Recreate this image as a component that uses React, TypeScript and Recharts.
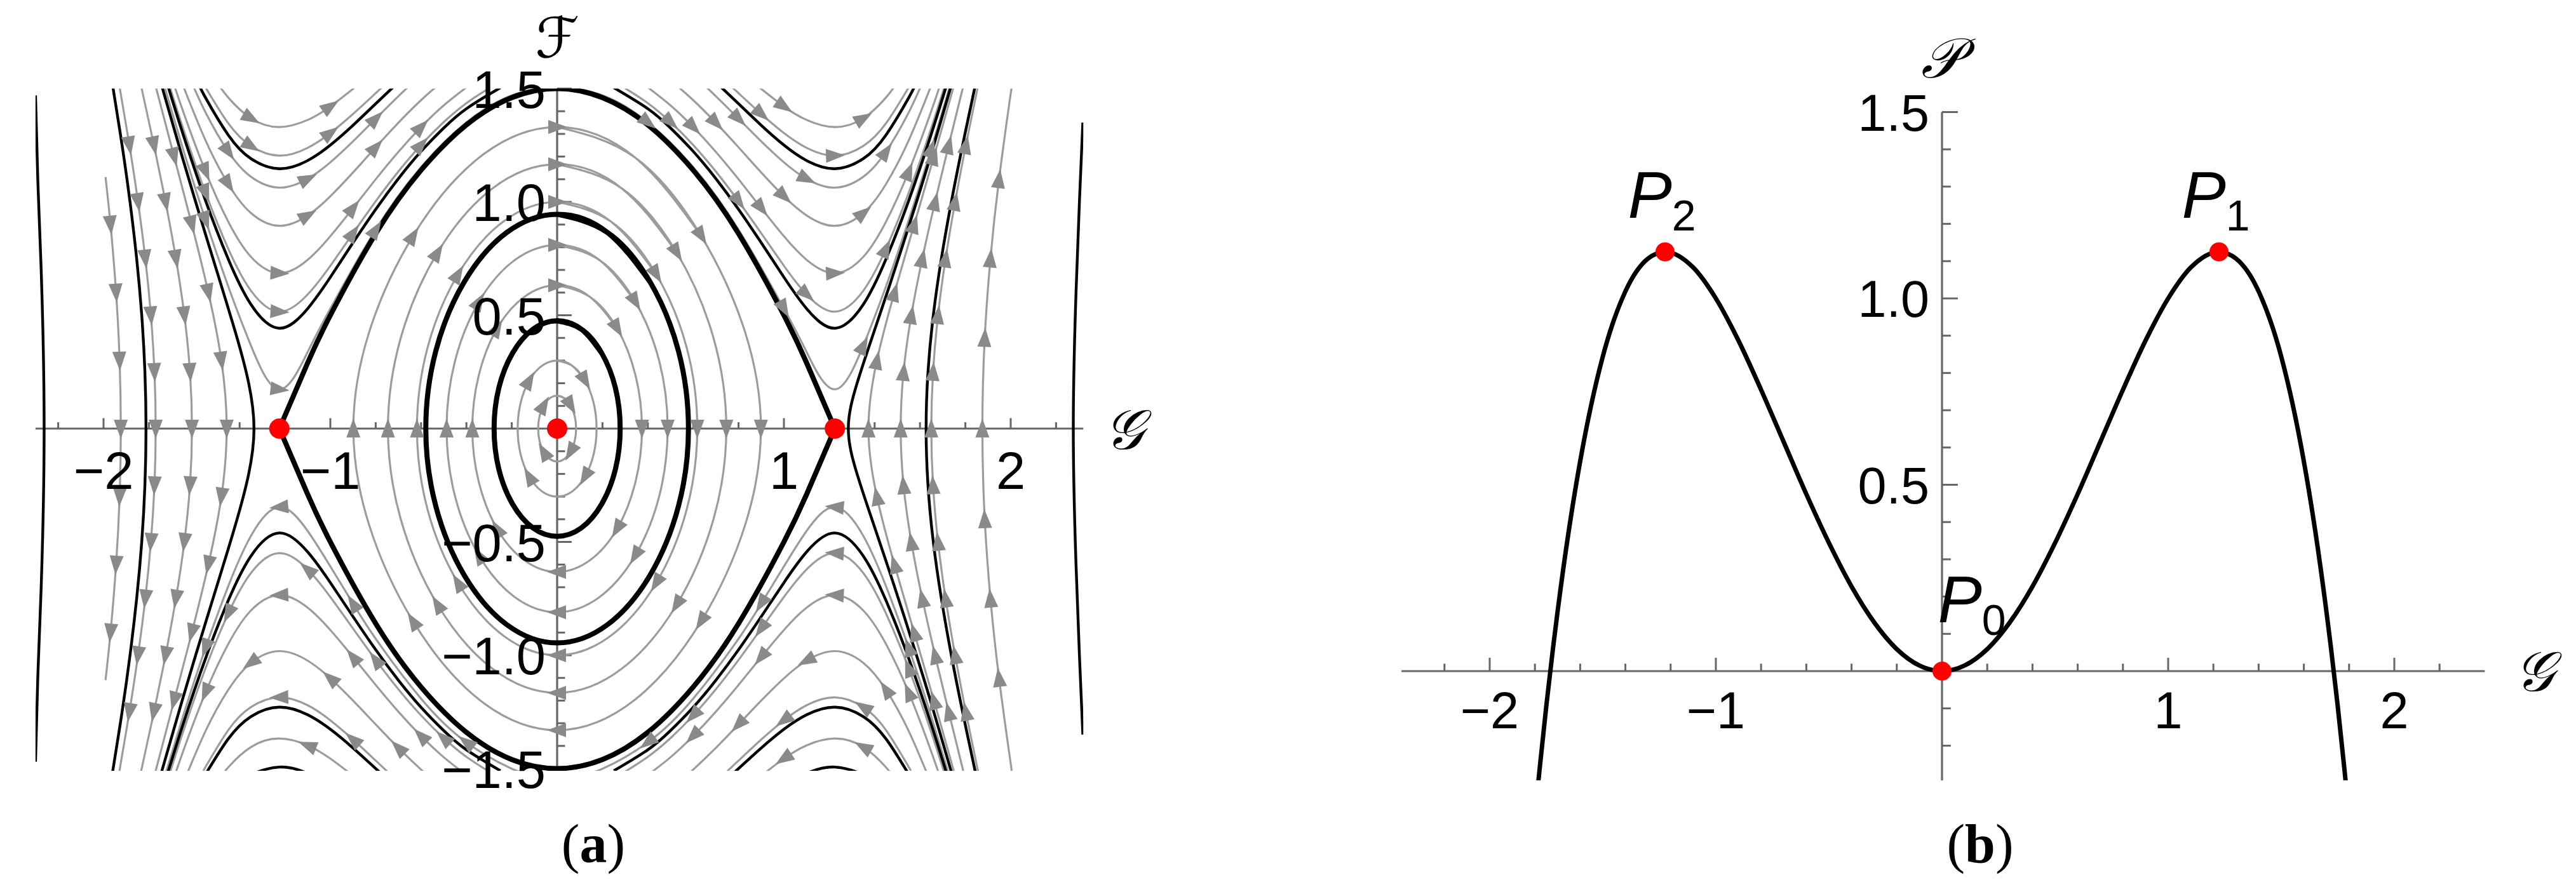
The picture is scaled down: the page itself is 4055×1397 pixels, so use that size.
import React from 'react'
import { ComposedChart, Line, Scatter, XAxis, YAxis, ReferenceLine } from 'recharts'

type Pt = [number, number]

// ---------- panel (a): phase portrait in the (G, F) plane ----------

// closed orbits round the centre, first-quadrant arc from (0, F0) to (G0, 0)
const innerGrayArcs: Pt[][] = [
  [[0, 0.145], [0.032, 0.134], [0.059, 0.1025], [0.0773, 0.0555], [0.0837, 0]],
  [[0, 0.3], [0.0666, 0.2772], [0.123, 0.2117], [0.1607, 0.1148], [0.174, 0]],
  [[0, 0.6325], [0.1432, 0.582], [0.2644, 0.4425], [0.3456, 0.235], [0.374, 0]],
  [[0, 0.81], [0.1866, 0.7435], [0.3445, 0.56], [0.4503, 0.298], [0.4873, 0]],
  [[0, 1.0], [0.2367, 0.9138], [0.437, 0.6807], [0.571, 0.3583], [0.618, 0]],
  [[0, 1.1662], [0.2857, 1.0591], [0.5274, 0.7765], [0.6893, 0.4005], [0.746, 0]],
  [[0, 1.3304], [0.3441, 1.1953], [0.6352, 0.85], [0.8302, 0.4212], [0.8985, 0]],
]
const innerBoldArcs: Pt[][] = [
  [[0, 0.4754], [0.1065, 0.4386], [0.1966, 0.333], [0.2569, 0.18], [0.278, 0]],
  [[0, 0.9455], [0.2218, 0.8653], [0.4094, 0.6475], [0.5351, 0.342], [0.5791, 0]],
]

// separatrix, upper arc from saddle to saddle
const separatrixArc: Pt[] = [
  [-1.2247, 0], [-1.1, 0.29], [-1.0, 0.5], [-0.8, 0.86], [-0.6, 1.14], [-0.4, 1.34], [-0.2, 1.46], [0, 1.5],
  [0.2, 1.46], [0.4, 1.34], [0.6, 1.14], [0.8, 0.86], [1.0, 0.5], [1.1, 0.29], [1.2247, 0],
]

// streamlines above the separatrix: right-hand U (G > 0)
const upperGrayArcs: Pt[][] = [
  [[0.88, 1.515], [0.9, 1.4988], [1.0, 1.4213], [1.1, 1.3617], [1.2247, 1.3304], [1.35, 1.369], [1.45, 1.4605], [1.5, 1.527]],
  [[0.75, 1.526], [0.8, 1.4797], [0.9, 1.3878], [1.0, 1.3038], [1.1, 1.2386], [1.2247, 1.2042], [1.35, 1.2466], [1.45, 1.3465], [1.55, 1.5048]],
  [[0.65, 1.5136], [0.7, 1.4663], [0.8, 1.3673], [0.9, 1.2673], [1.0, 1.1747], [1.1, 1.1019], [1.2247, 1.063], [1.35, 1.1109], [1.45, 1.2219], [1.55, 1.3944], [1.62, 1.5474]],
  [[0.5, 1.537], [0.6, 1.449], [0.7, 1.3491], [0.8, 1.2408], [0.9, 1.1297], [1.0, 1.0247], [1.1, 0.9403], [1.2247, 0.8944], [1.35, 0.9508], [1.45, 1.0784], [1.55, 1.2706], [1.65, 1.5148]],
  [[0.4, 1.5052], [0.5, 1.4257], [0.6, 1.3303], [0.7, 1.2207], [0.8, 1.0998], [0.9, 0.9727], [1.0, 0.8485], [1.1, 0.7444], [1.2247, 0.6856], [1.35, 0.7576], [1.45, 0.9127], [1.55, 1.1334], [1.65, 1.4016], [1.7, 1.5499]],
  [[0.3, 1.5014], [0.4, 1.4358], [0.5, 1.3522], [0.6, 1.2512], [0.7, 1.1341], [0.8, 1.0028], [0.9, 0.8615], [1.0, 0.7183], [1.1, 0.5917], [1.2247, 0.5158], [1.35, 0.6083], [1.45, 0.7931], [1.55, 1.0395], [1.65, 1.3268], [1.72, 1.5469]],
  [[0, 1.51], [0.2, 1.4702], [0.4, 1.3512], [0.6, 1.1531], [0.8, 0.8773], [1.0, 0.5292], [1.1, 0.3378], [1.2247, 0.1732], [1.35, 0.366], [1.45, 0.6269], [1.55, 0.919], [1.65, 1.2347], [1.75, 1.5721]],
]
const upperBoldArcs: Pt[][] = [
  [[0.72, 1.5091], [0.8, 1.433], [0.9, 1.338], [1.0, 1.2506], [1.1, 1.1824], [1.2247, 1.1463], [1.35, 1.1908], [1.45, 1.295], [1.55, 1.459], [1.58, 1.5188]],
  [[0.25, 1.5041], [0.4, 1.4112], [0.5, 1.3261], [0.6, 1.223], [0.7, 1.1028], [0.8, 0.9673], [0.9, 0.8198], [1.0, 0.6678], [1.1, 0.5292], [1.2247, 0.4427], [1.35, 0.5477], [1.45, 0.7477], [1.55, 1.0052], [1.65, 1.3002], [1.72, 1.5241]],
]

// streamlines below the separatrix: right-hand cap, |F| given
const lowerGrayArcs: Pt[][] = [
  [[0.1, 1.5297], [0.2, 1.5005], [0.4, 1.3841], [0.6, 1.1915], [0.8, 0.9272], [0.9, 0.7721], [1.0, 0.6083], [1.1, 0.4518], [1.2247, 0.3464], [1.35, 0.4733], [1.45, 0.695], [1.55, 0.9667], [1.65, 1.2706], [1.75, 1.6004]],
  [[0.3, 1.5133], [0.4, 1.4483], [0.5, 1.3655], [0.6, 1.2655], [0.7, 1.1498], [0.8, 1.0206], [0.9, 0.8821], [1.0, 0.743], [1.1, 0.6214], [1.2247, 0.5495], [1.35, 0.6372], [1.45, 0.8155], [1.55, 1.0567], [1.65, 1.3403], [1.72, 1.5585]],
  [[0.4, 1.5283], [0.5, 1.45], [0.6, 1.3563], [0.7, 1.249], [0.8, 1.1312], [0.9, 1.008], [1.0, 0.8888], [1.1, 0.79], [1.2247, 0.7348], [1.35, 0.8025], [1.45, 0.9503], [1.55, 1.1638], [1.65, 1.4264], [1.7, 1.5723]],
  [[0.55, 1.5485], [0.6, 1.5045], [0.7, 1.4086], [0.8, 1.3052], [0.9, 1.2], [1.0, 1.1018], [1.1, 1.0238], [1.2247, 0.9818], [1.35, 1.0334], [1.45, 1.152], [1.55, 1.3336], [1.65, 1.568]],
  [[0.75, 1.5116], [0.8, 1.4648], [0.9, 1.3719], [1.0, 1.2869], [1.1, 1.2207], [1.2247, 1.1857], [1.35, 1.2288], [1.45, 1.33], [1.56, 1.5092]],
  [[0.9, 1.5317], [1.0, 1.456], [1.1, 1.3979], [1.2247, 1.3675], [1.35, 1.405], [1.45, 1.4943], [1.5, 1.5596]],
]
const lowerBoldArcs: Pt[][] = [
  [[0.25, 1.5094], [0.4, 1.4169], [0.5, 1.3321], [0.6, 1.2295], [0.7, 1.11], [0.8, 0.9755], [0.9, 0.8295], [1.0, 0.6797], [1.1, 0.5442], [1.2247, 0.4604], [1.35, 0.5621], [1.45, 0.7583], [1.55, 1.0132], [1.65, 1.3063], [1.72, 1.5294]],
  [[0.78, 1.5182], [0.9, 1.4093], [1.0, 1.3266], [1.1, 1.2626], [1.2247, 1.2288], [1.35, 1.2704], [1.45, 1.3686], [1.55, 1.5246]],
  [[1.0, 1.5748], [1.1, 1.5212], [1.2247, 1.4933], [1.35, 1.5277], [1.4, 1.5626]],
]

// streamlines beyond the saddles, upper half (F >= 0)
const rightGrayArcs: Pt[][] = [
  [[1.3728, 0], [1.4099, 0.3], [1.4875, 0.6], [1.5744, 0.9], [1.6614, 1.2], [1.746, 1.5], [1.7736, 1.6]],
  [[1.5149, 0], [1.5275, 0.25], [1.5618, 0.5], [1.6103, 0.75], [1.6666, 1.0], [1.7267, 1.25], [1.7882, 1.5], [1.8129, 1.6]],
  [[1.6499, 0], [1.6576, 0.25], [1.6795, 0.5], [1.7129, 0.75], [1.7548, 1.0], [1.8023, 1.25], [1.8534, 1.5], [1.8744, 1.6]],
  [[1.8751, 0], [1.8855, 0.4], [1.9107, 0.75], [1.9485, 1.1], [2.0032, 1.5], [2.0184, 1.6]],
]
const rightBoldArcs: Pt[][] = [
  [[1.284, 0], [1.3225, 0.2], [1.388, 0.4], [1.4554, 0.6], [1.521, 0.8], [1.5846, 1.0], [1.646, 1.2], [1.734, 1.5], [1.763, 1.6]],
  [[1.627, 0], [1.6353, 0.25], [1.6587, 0.5], [1.6943, 0.75], [1.7383, 1.0], [1.7879, 1.25], [1.8408, 1.5], [1.8625, 1.6]],
  [[2.276, 0], [2.288, 0.6], [2.303, 1.0], [2.318, 1.35]],
]
const leftGrayArcs: Pt[][] = [
  [[-1.9239, 0], [-1.9292, 0.3], [-1.9447, 0.6], [-1.9693, 0.9], [-1.9913, 1.11]],
  [[-1.7701, 0], [-1.7755, 0.25], [-1.7912, 0.5], [-1.8159, 0.75], [-1.848, 1.0], [-1.886, 1.25], [-1.9281, 1.5], [-1.9459, 1.6]],
  [[-1.6102, 0], [-1.6189, 0.25], [-1.6437, 0.5], [-1.6809, 0.75], [-1.7266, 1.0], [-1.7777, 1.25], [-1.8319, 1.5], [-1.8541, 1.6]],
  [[-1.457, 0], [-1.4803, 0.3], [-1.5378, 0.6], [-1.6108, 0.9], [-1.6888, 1.2], [-1.7675, 1.5], [-1.7936, 1.6]],
]
const leftBoldArcs: Pt[][] = [
  [[-1.3366, 0], [-1.36, 0.2], [-1.4113, 0.4], [-1.4713, 0.6], [-1.5329, 0.8], [-1.5938, 1.0], [-1.6534, 1.2], [-1.7399, 1.5], [-1.768, 1.6]],
  [[-1.8128, 0], [-1.8176, 0.25], [-1.8316, 0.5], [-1.854, 0.75], [-1.8833, 1.0], [-1.9183, 1.25], [-1.9577, 1.5], [-1.9743, 1.6]],
  [[-2.262, 0], [-2.275, 0.7], [-2.29, 1.1], [-2.3, 1.47]],
]

const fixedPointsA: Pt[] = [[-1.2247, 0], [0, 0], [1.2247, 0]]

const gTicks = [-2.2, -2, -1.8, -1.6, -1.4, -1.2, -1, -0.8, -0.6, -0.4, -0.2, 0.2, 0.4, 0.6, 0.8, 1, 1.2, 1.4, 1.6, 1.8, 2, 2.2]
const fTicks = [-1.5, -1.4, -1.3, -1.2, -1.1, -1, -0.9, -0.8, -0.7, -0.6, -0.5, -0.4, -0.3, -0.2, -0.1,
  0.1, 0.2, 0.3, 0.4, 0.5, 0.6, 0.7, 0.8, 0.9, 1, 1.1, 1.2, 1.3, 1.4, 1.5]
const gTickLabels = [-2, -1, 1, 2]
const fTickLabels = [-1.5, -1, -0.5, 0.5, 1, 1.5]

// ---------- panel (b): potential P(G) ----------
const potG = [-1.79, -1.78, -1.75, -1.72, -1.7, -1.65, -1.6, -1.5, -1.4, -1.3, -1.2247, -1.1, -1.0, -0.9, -0.8, -0.7, -0.6, -0.5, -0.4, -0.3, -0.2, -0.1,
  0, 0.1, 0.2, 0.3, 0.4, 0.5, 0.6, 0.7, 0.8, 0.9, 1.0, 1.1, 1.2247, 1.3, 1.4, 1.5, 1.6, 1.65, 1.7, 1.72, 1.75, 1.78, 1.79]
const potP = [-0.327, -0.267, -0.095, 0.062, 0.159, 0.378, 0.563, 0.844, 1.019, 1.107, 1.125, 1.083, 1.0, 0.887, 0.755, 0.615, 0.475, 0.344, 0.227, 0.131, 0.059, 0.015,
  0, 0.015, 0.059, 0.131, 0.227, 0.344, 0.475, 0.615, 0.755, 0.887, 1.0, 1.083, 1.125, 1.107, 1.019, 0.844, 0.563, 0.378, 0.159, 0.062, -0.095, -0.267, -0.327]
const pTicks = [-0.2, -0.1, 0.1, 0.2, 0.3, 0.4, 0.5, 0.6, 0.7, 0.8, 0.9, 1, 1.1, 1.2, 1.3, 1.4, 1.5]
const pTickLabels = [0.5, 1, 1.5]
const fixedPointsB = [
  { g: 0, f: 0, sub: '0' },
  { g: 1.2247, f: 1.125, sub: '1' },
  { g: -1.2247, f: 1.125, sub: '2' },
]

// ---------- helpers ----------
const rows = (pts: Pt[]) => pts.map(([g, f]) => ({ g, f }))
const flipF = (pts: Pt[]): Pt[] => pts.map(([g, f]) => [g, -f] as Pt)
const flipG = (pts: Pt[]): Pt[] => pts.map(([g, f]) => [-g, f] as Pt)
const rev = (pts: Pt[]): Pt[] => [...pts].reverse()

// clockwise loop from a quarter arc, two points overlap so the join stays smooth
const loop = (q: Pt[]): Pt[] => [
  ...q,
  ...flipF(rev(q)).slice(1),
  ...flipG(flipF(q)).slice(1),
  ...flipG(rev(q)).slice(1),
  q[1],
  q[2],
]
const upperPair = (u: Pt[]): Pt[][] => [u, rev(flipG(u))]
const lowerPair = (u: Pt[]): Pt[][] => [rev(flipF(u)), flipG(flipF(u))]
const side = (h: Pt[]): Pt[] => [...rev(flipF(h)).slice(0, -1), ...h]

const grayLoops = innerGrayArcs.map(loop)
const grayCaps = [...upperGrayArcs.flatMap(upperPair), ...lowerGrayArcs.flatMap(lowerPair)]
const graySides = [...rightGrayArcs.map(side), ...leftGrayArcs.map((h) => rev(side(h)))]
const boldThick = [...innerBoldArcs.map(loop), separatrixArc, flipF(separatrixArc)]
const boldThin = [
  ...upperBoldArcs.flatMap(upperPair),
  ...lowerBoldArcs.flatMap(lowerPair),
  ...rightBoldArcs.map(side),
  ...leftBoldArcs.map(side),
]

const arrowsOn = (pts: Pt[], start: number, step: number) => {
  const out: { g: number; f: number; ang: number }[] = []
  for (let i = start; i < pts.length - 1; i += step) {
    const [g, f] = pts[i]
    if (f > 1.45 || f < -1.46 || g < -2.26 || g > 2.28) continue
    const dg = pts[i + 1][0] - pts[i - 1][0]
    const df = pts[i + 1][1] - pts[i - 1][1]
    out.push({ g, f, ang: (Math.atan2(-df, dg) * 180) / Math.PI })
  }
  return out
}
const arrowRows = [
  ...grayLoops.flatMap((p, i) => arrowsOn(p, 2, i < 2 ? 4 : 2)),
  ...grayCaps.flatMap((p) => arrowsOn(p, 2, 3)),
  ...graySides.flatMap((p) => arrowsOn(p, 1, 1)),
]

const fmt1 = (v: number) => (v < 0 ? '\u2212' : '') + Math.abs(v).toFixed(1)
const fmt0 = (v: number) => (v < 0 ? '\u2212' : '') + Math.abs(v).toFixed(0)

const AXIS = '#666666'
const GRAY = '#9c9c9c'
const TICK_FONT = '"Liberation Sans", Arial, sans-serif'
const SCRIPT_FONT = '"DejaVu Serif", "DejaVu Sans", "Noto Sans", serif'

function PhasePortrait() {
  return (
    <ComposedChart width={1900} height={1397} margin={{ left: 55.9, right: 194.76, top: 139.5, bottom: 182.93 }}>
      <XAxis xAxisId="c" dataKey="g" type="number" domain={[-2.3, 2.32]} hide allowDataOverflow />
      <YAxis yAxisId="c" dataKey="f" type="number" domain={[-1.51, 1.5]} hide allowDataOverflow />
      <XAxis xAxisId="t" dataKey="g" type="number" domain={[-2.3, 2.32]} hide />
      <YAxis yAxisId="t" dataKey="f" type="number" domain={[-1.51, 1.5]} hide />

      <ReferenceLine xAxisId="c" yAxisId="c" y={0} stroke={AXIS} strokeWidth={3.2} />
      <ReferenceLine xAxisId="c" yAxisId="c" x={0} stroke={AXIS} strokeWidth={3.2} />
      {gTicks.map((g) => (
        <ReferenceLine key={'gt' + g} xAxisId="c" yAxisId="c" stroke={AXIS} strokeWidth={3}
          segment={[{ x: g, y: 0 }, { x: g, y: Number.isInteger(g) ? 0.046 : 0.028 }]} />
      ))}
      {fTicks.map((f) => (
        <ReferenceLine key={'ft' + f} xAxisId="c" yAxisId="c" stroke={AXIS} strokeWidth={3}
          segment={[{ x: 0, y: f }, { x: Number.isInteger(f * 2) ? 0.064 : 0.035, y: f }]} />
      ))}

      {[...grayLoops, ...grayCaps, ...graySides].map((pts, i) => (
        <Line key={'gl' + i} xAxisId="c" yAxisId="c" data={rows(pts)} dataKey="f" type="natural"
          stroke={GRAY} strokeWidth={3.2} dot={false} activeDot={false} isAnimationActive={false} />
      ))}
      {boldThin.map((pts, i) => (
        <Line key={'bn' + i} xAxisId="c" yAxisId="c" data={rows(pts)} dataKey="f" type="natural"
          stroke="#000" strokeWidth={4.4} dot={false} activeDot={false} isAnimationActive={false} />
      ))}
      {boldThick.map((pts, i) => (
        <Line key={'bk' + i} xAxisId="c" yAxisId="c" data={rows(pts)} dataKey="f" type="natural"
          stroke="#000" strokeWidth={8} dot={false} activeDot={false} isAnimationActive={false} />
      ))}

      <Scatter xAxisId="t" yAxisId="t" data={arrowRows} dataKey="f" isAnimationActive={false}
        shape={(p: any) => (
          <polygon points="16,0 -14,-11 -14,11" fill="#8a8a8a"
            transform={`translate(${p.cx},${p.cy}) rotate(${p.payload.ang})`} />
        )} />
      <Scatter xAxisId="t" yAxisId="t" data={rows(fixedPointsA)} dataKey="f" isAnimationActive={false}
        shape={(p: any) => <circle cx={p.cx} cy={p.cy} r={16} fill="#ff0000" />} />

      <Scatter xAxisId="t" yAxisId="t" data={gTickLabels.map((g) => ({ g, f: 0, t: fmt0(g) }))} dataKey="f" isAnimationActive={false}
        shape={(p: any) => (
          <text x={p.cx} y={p.cy + 95} textAnchor="middle" fontFamily={TICK_FONT} fontSize={83} fill="#000">{p.payload.t}</text>
        )} />
      <Scatter xAxisId="t" yAxisId="t" data={fTickLabels.map((f) => ({ g: 0, f, t: fmt1(f) }))} dataKey="f" isAnimationActive={false}
        shape={(p: any) => (
          <text x={p.cx - 18} y={p.cy + 30} textAnchor="end" fontFamily={TICK_FONT} fontSize={83} fill="#000">{p.payload.t}</text>
        )} />
      <Scatter xAxisId="t" yAxisId="t" data={[{ g: 0, f: 1.5, t: '\u2131' }, { g: 2.32, f: 0, t: '\uD835\uDCA2' }]} dataKey="f" isAnimationActive={false}
        shape={(p: any) =>
          p.payload.g === 0 ? (
            <text x={p.cx} y={p.cy - 50} textAnchor="middle" fontFamily={SCRIPT_FONT} fontStyle="italic" fontSize={88} fill="#000">{p.payload.t}</text>
          ) : (
            <text x={p.cx + 64} y={p.cy + 32} textAnchor="middle" fontFamily={SCRIPT_FONT} fontStyle="italic" fontSize={88} fill="#000">{p.payload.t}</text>
          )
        } />
    </ComposedChart>
  )
}

function PotentialCurve() {
  const curve = potG.map((g, i) => ({ g, f: potP[i] }))
  return (
    <ComposedChart width={1955} height={1397} margin={{ left: 106.16, right: 143.6, top: 176.5, bottom: 168 }}>
      <XAxis xAxisId="c" dataKey="g" type="number" domain={[-2.39, 2.4]} hide allowDataOverflow />
      <YAxis yAxisId="c" dataKey="f" type="number" domain={[-0.293, 1.5]} hide allowDataOverflow />
      <XAxis xAxisId="t" dataKey="g" type="number" domain={[-2.39, 2.4]} hide />
      <YAxis yAxisId="t" dataKey="f" type="number" domain={[-0.293, 1.5]} hide />

      <ReferenceLine xAxisId="c" yAxisId="c" y={0} stroke={AXIS} strokeWidth={3.2} />
      <ReferenceLine xAxisId="c" yAxisId="c" x={0} stroke={AXIS} strokeWidth={3.2} />
      {gTicks.map((g) => (
        <ReferenceLine key={'gt' + g} xAxisId="c" yAxisId="c" stroke={AXIS} strokeWidth={3}
          segment={[{ x: g, y: 0 }, { x: g, y: Number.isInteger(g) ? 0.036 : 0.02 }]} />
      ))}
      {pTicks.map((f) => (
        <ReferenceLine key={'pt' + f} xAxisId="c" yAxisId="c" stroke={AXIS} strokeWidth={3}
          segment={[{ x: 0, y: f }, { x: Number.isInteger(f * 2) ? 0.07 : 0.039, y: f }]} />
      ))}

      <Line xAxisId="c" yAxisId="c" data={curve} dataKey="f" type="monotone" stroke="#000" strokeWidth={7}
        dot={false} activeDot={false} isAnimationActive={false} />

      <Scatter xAxisId="t" yAxisId="t" data={fixedPointsB} dataKey="f" isAnimationActive={false}
        shape={(p: any) => <circle cx={p.cx} cy={p.cy} r={15} fill="#ff0000" />} />
      <Scatter xAxisId="t" yAxisId="t" data={fixedPointsB} dataKey="f" isAnimationActive={false}
        shape={(p: any) => {
          const zero = p.payload.sub === '0'
          return (
            <text x={zero ? p.cx + 47 : p.cx - 5} y={zero ? p.cy - 77 : p.cy - 54} textAnchor="middle" fontFamily={TICK_FONT} fill="#000">
              <tspan fontStyle="italic" fontSize={104}>P</tspan>
              <tspan fontSize={68} dy={20}>{p.payload.sub}</tspan>
            </text>
          )
        }} />

      <Scatter xAxisId="t" yAxisId="t" data={gTickLabels.map((g) => ({ g, f: 0, t: fmt0(g) }))} dataKey="f" isAnimationActive={false}
        shape={(p: any) => (
          <text x={p.cx} y={p.cy + 90} textAnchor="middle" fontFamily={TICK_FONT} fontSize={81} fill="#000">{p.payload.t}</text>
        )} />
      <Scatter xAxisId="t" yAxisId="t" data={pTickLabels.map((f) => ({ g: 0, f, t: fmt1(f) }))} dataKey="f" isAnimationActive={false}
        shape={(p: any) => (
          <text x={p.cx - 20} y={p.cy + 29} textAnchor="end" fontFamily={TICK_FONT} fontSize={81} fill="#000">{p.payload.t}</text>
        )} />
      <Scatter xAxisId="t" yAxisId="t" data={[{ g: 0, f: 1.5, t: '\uD835\uDCAB' }, { g: 2.4, f: 0, t: '\uD835\uDCA2' }]} dataKey="f" isAnimationActive={false}
        shape={(p: any) =>
          p.payload.g === 0 ? (
            <text x={p.cx - 2} y={p.cy - 55} textAnchor="middle" fontFamily={SCRIPT_FONT} fontStyle="italic" fontSize={88} fill="#000">{p.payload.t}</text>
          ) : (
            <text x={p.cx + 78} y={p.cy + 31} textAnchor="middle" fontFamily={SCRIPT_FONT} fontStyle="italic" fontSize={88} fill="#000">{p.payload.t}</text>
          )
        } />
    </ComposedChart>
  )
}

function Caption({ x, letter }: { x: number; letter: string }) {
  return (
    <div style={{ position: 'absolute', left: x, top: 1286, transform: 'translateX(-50%)', fontFamily: '"Liberation Serif", serif', fontSize: 86, lineHeight: 1, whiteSpace: 'nowrap', color: '#000' }}>
      (<b>{letter}</b>)
    </div>
  )
}

export default function App() {
  return (
    <div style={{ position: 'absolute', left: 0, top: 0, width: 4055, height: 1397, background: '#fff', overflow: 'hidden' }}>
      <div style={{ position: 'absolute', left: 0, top: 0 }}>
        <PhasePortrait />
      </div>
      <div style={{ position: 'absolute', left: 2100, top: 0 }}>
        <PotentialCurve />
      </div>
      <Caption x={934} letter="a" />
      <Caption x={3117} letter="b" />
    </div>
  )
}
